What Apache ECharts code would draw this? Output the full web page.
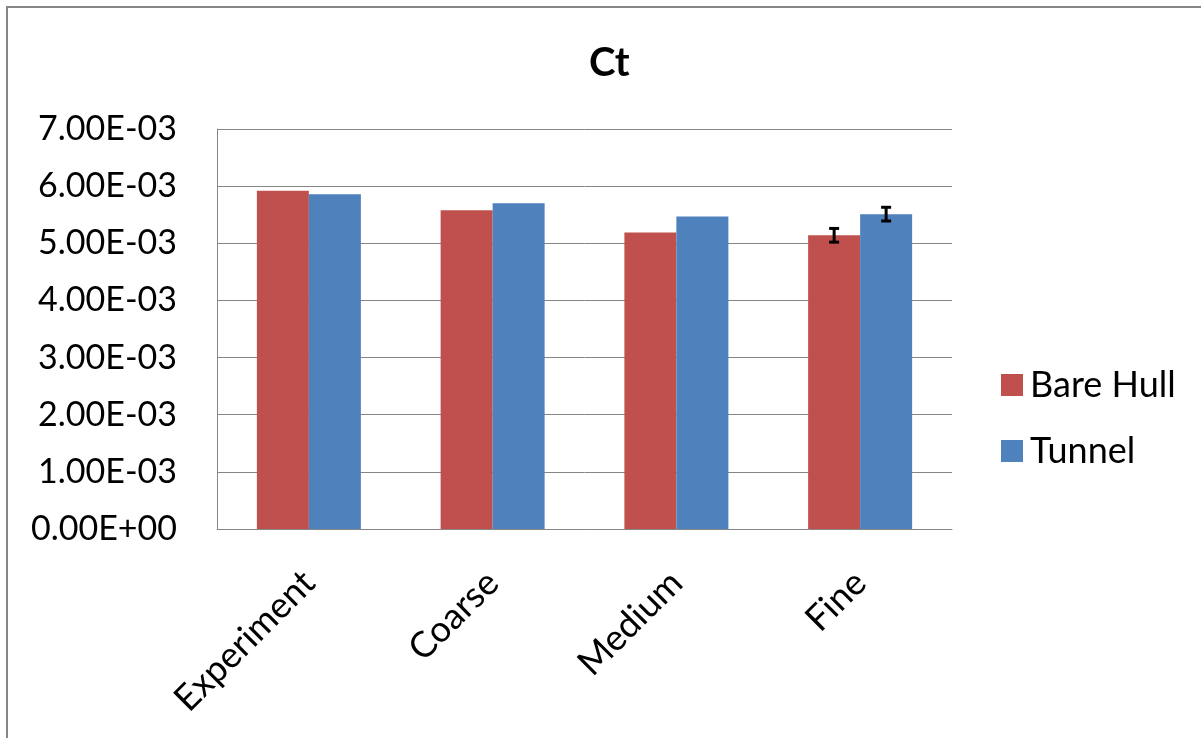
<!DOCTYPE html>
<html>
<head>
<meta charset="utf-8">
<script src="https://cdn.jsdelivr.net/npm/echarts@6/dist/echarts.min.js"></script>
<style>
html,body{margin:0;padding:0;background:#fff;}
#chart{width:1201px;height:738px;}
</style>
</head>
<body>
<div id="chart"></div>
<script>
const categories = ['Experiment', 'Coarse', 'Medium', 'Fine'];
const bareHull = [5.92e-3, 5.58e-3, 5.19e-3, 5.14e-3];
const tunnel = [5.86e-3, 5.70e-3, 5.47e-3, 5.51e-3];
// error bar half-widths (only Fine shows error bars)
const bareHullErr = [null, null, null, 0.12e-3];
const tunnelErr = [null, null, null, 0.12e-3];
const yTicks = { min: 0, max: 7e-3, interval: 1e-3 };

const FONT = 'Lato';

function fmtExp(v) {
  if (Math.abs(v) < 1e-12) return '0.00E+00';
  const s = v.toExponential(2).toUpperCase();
  const [m, e] = s.split('E');
  const sign = e[0] === '-' ? '-' : '+';
  let d = e.replace(/^[+-]/, '');
  if (d.length < 2) d = '0' + d;
  return m + 'E' + sign + d;
}

function errData(vals, errs) {
  const out = [];
  vals.forEach((v, i) => { if (errs[i] != null) out.push([i, v - errs[i], v + errs[i]]); });
  return out;
}

function errRender(offsetSign) {
  return function (params, api) {
    const idx = api.value(0);
    const lo = api.coord([idx, api.value(1)]);
    const hi = api.coord([idx, api.value(2)]);
    const barW = 52;
    const x = lo[0] + offsetSign * barW / 2;
    const cap = 5;
    const style = { stroke: '#000', lineWidth: 3 };
    return {
      type: 'group',
      children: [
        { type: 'line', shape: { x1: x, y1: lo[1], x2: x, y2: hi[1] }, style },
        { type: 'line', shape: { x1: x - cap, y1: lo[1], x2: x + cap, y2: lo[1] }, style },
        { type: 'line', shape: { x1: x - cap, y1: hi[1], x2: x + cap, y2: hi[1] }, style }
      ]
    };
  };
}

const chart = echarts.init(document.getElementById('chart'));
chart.setOption({
  animation: false,
  backgroundColor: '#fff',
  textStyle: { fontFamily: FONT },
  graphic: [{
    type: 'rect',
    shape: { x: 7, y: 7, width: 1300, height: 900 },
    style: { fill: 'none', stroke: '#868686', lineWidth: 2 },
    silent: true
  }],
  title: {
    text: 'Ct',
    left: 584,
    top: 38,
    textStyle: { fontFamily: FONT, fontSize: 40, fontWeight: 'bold', color: '#000' }
  },
  legend: {
    orient: 'vertical',
    left: 996,
    top: 362,
    itemWidth: 22,
    itemHeight: 22,
    itemGap: 30,
    icon: 'rect',
    textStyle: { fontFamily: FONT, fontSize: 36, color: '#000', padding: [0, 0, 0, 2] },
    data: ['Bare Hull', 'Tunnel']
  },
  grid: { left: 217, right: 249, top: 129, bottom: 209, containLabel: false },
  xAxis: {
    type: 'category',
    data: categories,
    axisLine: { show: true, lineStyle: { color: '#868686', width: 1 } },
    axisTick: { show: false },
    axisLabel: { rotate: 45, margin: 48, fontFamily: FONT, fontSize: 36, color: '#000' }
  },
  yAxis: {
    type: 'value',
    min: yTicks.min,
    max: yTicks.max,
    interval: yTicks.interval,
    axisLine: { show: true, lineStyle: { color: '#868686', width: 1 } },
    axisTick: { show: false },
    splitLine: { show: true, lineStyle: { color: '#868686', width: 1 } },
    axisLabel: { margin: 40, fontFamily: FONT, fontSize: 34, color: '#000', formatter: fmtExp }
  },
  series: [
    {
      name: 'Bare Hull', type: 'bar', data: bareHull, barWidth: 52, barGap: '0%',
      itemStyle: { color: '#C0504D' }
    },
    {
      name: 'Tunnel', type: 'bar', data: tunnel, barWidth: 52, barGap: '0%',
      itemStyle: { color: '#4F81BD' }
    },
    {
      name: 'errBH', type: 'custom', data: errData(bareHull, bareHullErr),
      renderItem: errRender(-1), z: 10, encode: { x: 0, y: [1, 2] }
    },
    {
      name: 'errT', type: 'custom', data: errData(tunnel, tunnelErr),
      renderItem: errRender(1), z: 10, encode: { x: 0, y: [1, 2] }
    }
  ]
});
</script>
</body>
</html>
